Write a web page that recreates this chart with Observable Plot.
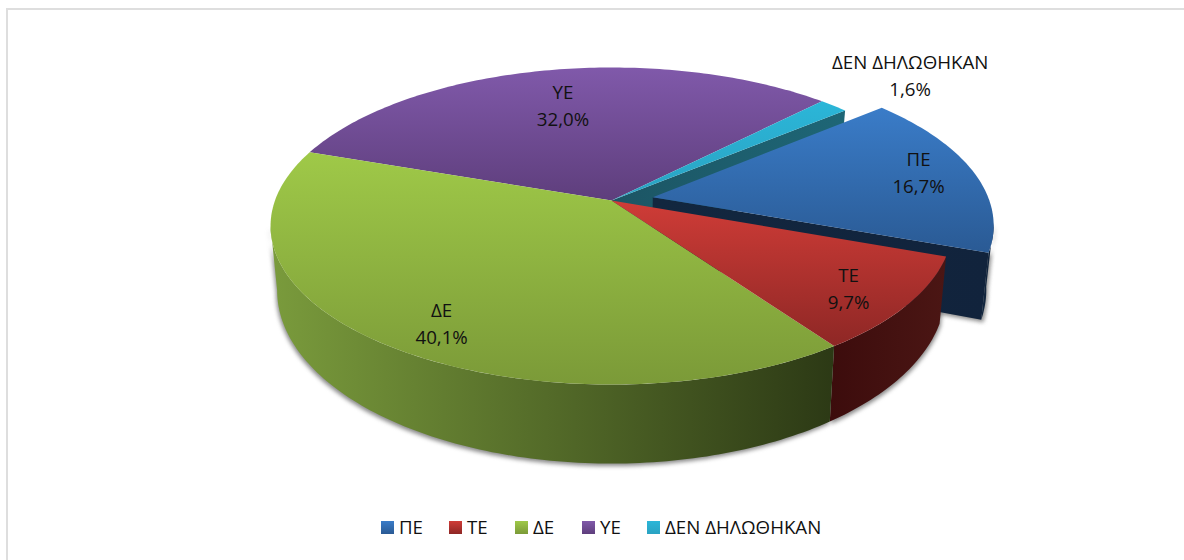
<!DOCTYPE html>
<html lang="el">
<head>
<meta charset="utf-8">
<script src="https://cdn.jsdelivr.net/npm/d3@7"></script>
<script src="https://cdn.jsdelivr.net/npm/@observablehq/plot@0.6"></script>
<style>
html,body{margin:0;padding:0;background:#fff;width:1184px;height:560px;overflow:hidden}
body{position:relative;font-family:"Open Sans",sans-serif;color:#111}
#frameTop{position:absolute;left:6px;top:8px;right:0;height:2px;background:#dedede}
#frameLeft{position:absolute;left:6px;top:8px;bottom:0;width:2px;background:#dedede}
#chart{position:relative;height:505px}
#chart svg{display:block;background:transparent}
#legend{position:relative;height:55px;font-size:18.7px;line-height:22px}
.item{position:absolute;top:11px;display:flex;align-items:center;gap:5px;white-space:nowrap}
.sw{width:13px;height:13px;display:inline-block}
</style>
</head>
<body>
<div id="frameTop"></div><div id="frameLeft"></div>
<div id="chart"></div>
<div id="legend"></div>
<script>
// ---- data
const categories = ["ΠΕ", "ΤΕ", "ΔΕ", "ΥΕ", "ΔΕΝ ΔΗΛΩΘΗΚΑΝ"];
const shares = [16.7, 9.7, 40.1, 32.0, 1.6];
const shareLabels = ["16,7%", "9,7%", "40,1%", "32,0%", "1,6%"];

// ---- styling
const topLight = ["#3a7cc8", "#cf3c37", "#9fc948", "#8059aa", "#2bb6d8"];
const topDark  = ["#2a5a94", "#8e2725", "#7b9a38", "#5e3e7c", "#2aa2c2"];
const sideLight = ["#12273f", "#3c0c0c", "#7a9b3c", "#4a2f62", "#1c5564"];
const sideDark  = ["#11233c", "#4b1614", "#2c3915", "#3c2650", "#1e6676"];
const legendLeft = [381, 449, 515, 582, 647];

// ---- pie geometry
const startAngle = 320, explode = [0.125, 0, 0, 0, 0];
const labelRadius = [0.83, 0.835, 0.84, 0.69, 1.37], labelNudge = [-0.8, 2.0, -4.9, -0.1, 0.9];
const topDisc = {cx: 611, cy: 200, R: 336.5, S: 154.4};
const botDisc = {cx: 611, cy: 262, R: 330, S: 168.7};
const k = 0.161;
const rad = d => d * Math.PI / 180;
function project(d, u, v) { const w = 1 - k * v; return {x: d.cx + d.R * u / w, y: d.cy + d.S * v / w}; }
const total = d3.sum(shares);
let acc = startAngle;
const slices = shares.map((s, i) => {
  const a0 = acc, a1 = acc + s / total * 360; acc = a1;
  const mid = (a0 + a1) / 2, e = explode[i];
  return {i, a0, a1, mid, ox: e * Math.cos(rad(mid)), oy: e * Math.sin(rad(mid))};
});
function pt(d, s, r, a) { return project(d, s.ox + r * Math.cos(rad(a)), s.oy + r * Math.sin(rad(a))); }
function arc(d, s, a0, a1) {
  const n = Math.max(2, Math.ceil(Math.abs(a1 - a0))), out = [];
  for (let j = 0; j <= n; j++) out.push(pt(d, s, 1, a0 + (a1 - a0) * j / n));
  return out;
}
const topFace = s => [pt(topDisc, s, 0, 0), ...arc(topDisc, s, s.a0, s.a1)];
const cutFace = (s, a) => [pt(topDisc, s, 0, 0), pt(topDisc, s, 1, a), pt(botDisc, s, 1, a), pt(botDisc, s, 0, 0)];
const sil = Math.asin(k) * 180 / Math.PI;
function rimFace(s) {
  // visible part of the rim: the front half between the two silhouette angles
  for (const off of [0, 360]) {
    const a0 = Math.max(s.a0, sil + off), a1 = Math.min(s.a1, 180 - sil + off);
    if (a1 > a0) return [...arc(topDisc, s, a0, a1), ...arc(botDisc, s, a1, a0)];
  }
  return null;
}

const defs = () => {
  const g = d3.create("svg:defs");
  const grad = (id, horiz, c0, c1) => {
    const l = g.append("linearGradient").attr("id", id).attr("x1", 0).attr("y1", 0)
      .attr("x2", horiz ? 1 : 0).attr("y2", horiz ? 0 : 1);
    l.append("stop").attr("offset", 0).attr("stop-color", c0);
    l.append("stop").attr("offset", 1).attr("stop-color", c1);
  };
  slices.forEach(s => { grad("top" + s.i, false, topLight[s.i], topDark[s.i]); grad("side" + s.i, true, sideLight[s.i], sideDark[s.i]); });
  return g.node();
};
const poly = (pts, fill, extra = {}) => Plot.line(pts, {x: "x", y: "y", fill, stroke: "none", curve: "linear", ...extra});

const marks = [defs];
// soft shadow under the body
for (const s of slices.slice(0, 3)) {
  const r = rimFace(s);
  if (r) marks.push(poly(r, "#6a6a6a", {dx: s.i === 2 ? -1 : 1, dy: 2.5, imageFilter: "blur(2px)", fillOpacity: 0.8}));
}
const pe = slices[0];
marks.push(poly(cutFace(pe, pe.a1), "#6a6a6a", {dx: 2, dy: 2.5, imageFilter: "blur(2px)", fillOpacity: 0.8}));
// cut faces and rims, back to front
marks.push(poly(cutFace(slices[4], slices[4].a1), "url(#side4)"));
marks.push(poly(cutFace(pe, pe.a1), "url(#side0)"));
for (const s of slices.slice(0, 3)) { const r = rimFace(s); if (r) marks.push(poly(r, `url(#side${s.i})`)); }
// top faces
for (const i of [3, 4, 2, 1, 0]) marks.push(poly(topFace(slices[i]), `url(#top${i})`));
// labels
const labels = slices.map(s => {
  const p = pt(topDisc, s, labelRadius[s.i], s.mid + labelNudge[s.i]);
  return {x: p.x, y: p.y, text: categories[s.i] + "\n" + shareLabels[s.i]};
});
marks.push(Plot.text(labels, {x: "x", y: "y", text: "text", fontSize: 18.7, lineHeight: 1.45, dy: -3, fill: "#111", lineAnchor: "middle", textAnchor: "middle", fontFamily: "Open Sans"}));

const chart = Plot.plot({
  width: 1184, height: 505, margin: 0,
  x: {domain: [0, 1184], range: [0, 1184], axis: null},
  y: {domain: [0, 505], range: [0, 505], axis: null},
  style: {background: "transparent", overflow: "visible"},
  marks
});
document.getElementById("chart").append(chart);

const legend = document.getElementById("legend");
categories.forEach((c, i) => {
  const it = document.createElement("span"); it.className = "item"; it.style.left = legendLeft[i] + "px";
  const sw = document.createElement("i"); sw.className = "sw";
  sw.style.background = `linear-gradient(${topLight[i]},${topDark[i]})`;
  it.append(sw, document.createTextNode(c));
  legend.append(it);
});
</script>
</body>
</html>
